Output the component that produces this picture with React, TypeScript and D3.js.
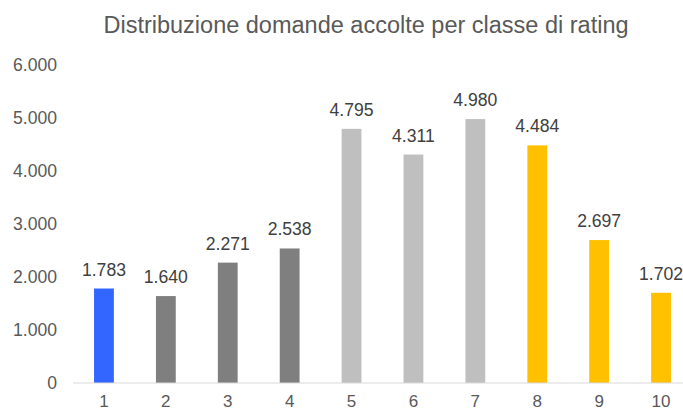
import React from "react";
import * as d3 from "d3";

const categories = ["1", "2", "3", "4", "5", "6", "7", "8", "9", "10"];
const values = [1783, 1640, 2271, 2538, 4795, 4311, 4980, 4484, 2697, 1702];
const colors = ["#3366FF", "#7F7F7F", "#7F7F7F", "#7F7F7F", "#BFBFBF", "#BFBFBF", "#BFBFBF", "#FFC000", "#FFC000", "#FFC000"];
const yTicks = [0, 1000, 2000, 3000, 4000, 5000, 6000];
const title = "Distribuzione domande accolte per classe di rating";

const fmt = (v: number) => d3.format(",")(v).replace(/,/g, ".");

export default function App() {
  const W = 683, H = 412;
  const x = d3.scaleBand().domain(categories).range([73, 692]).paddingInner(0.68).paddingOuter(0.34);
  const y = d3.scaleLinear().domain([0, 6000]).range([383, 65]);
  const font = "'Liberation Sans', Arial, sans-serif";
  return (
    <svg width={W} height={H} style={{ position: "absolute", left: 0, top: 0 }} fontFamily={font}>
      <rect width={W} height={H} fill="#fff" />
      <text x={366} y={33} textAnchor="middle" fontSize={23.5} fill="#595959">{title}</text>
      {yTicks.map(t => (
        <text key={t} x={57} y={y(t)} dy="0.35em" textAnchor="end" fontSize={17.6} fill="#595959">{fmt(t)}</text>
      ))}
      {categories.map((c, i) => (
        <g key={c}>
          <rect x={x(c)} y={y(values[i])} width={x.bandwidth()} height={y(0) - y(values[i])} fill={colors[i]} />
          <text x={(x(c) ?? 0) + x.bandwidth() / 2} y={y(values[i]) - 13} textAnchor="middle" fontSize={17.6} fill="#404040">{fmt(values[i])}</text>
          <text x={(x(c) ?? 0) + x.bandwidth() / 2} y={407} textAnchor="middle" fontSize={17} fill="#595959">{c}</text>
        </g>
      ))}
      <line x1={73} x2={692} y1={y(0)} y2={y(0)} stroke="#D9D9D9" strokeWidth={1} />
    </svg>
  );
}
